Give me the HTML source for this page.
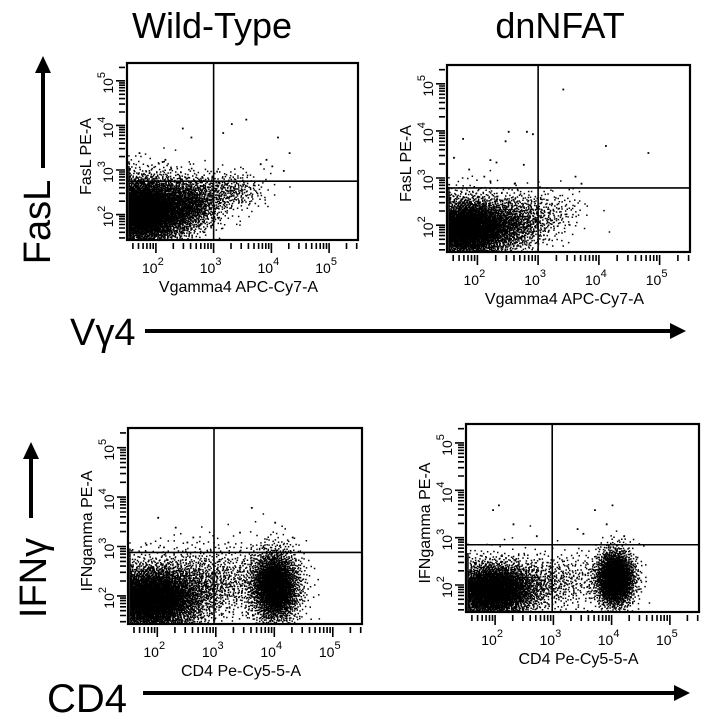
<!DOCTYPE html>
<html><head><meta charset="utf-8">
<style>
html,body{margin:0;padding:0;background:#fff;}
svg{display:block;font-family:"Liberation Sans",Arial,sans-serif;}
</style></head>
<body>
<svg id="fig" width="710" height="723" viewBox="0 0 710 723">
  <text x="212" y="38" font-size="36" text-anchor="middle">Wild-Type</text>
  <text x="560" y="38" font-size="36" text-anchor="middle">dnNFAT</text>
  <text transform="translate(50,222) rotate(-90)" font-size="38" text-anchor="middle">FasL</text>
  <g><rect x="41" y="72" width="4" height="96" fill="#000"/><polygon points="35,73 51,73 43,56" fill="#000"/></g>
  <text x="70" y="345" font-size="38">Vγ4</text>
  <g><rect x="145" y="329" width="528" height="4" fill="#000"/><polygon points="670,323 670,339 686,331" fill="#000"/></g>
  <text transform="translate(46,578) rotate(-90)" font-size="38" text-anchor="middle">IFNγ</text>
  <g><rect x="29" y="458" width="4" height="60" fill="#000"/><polygon points="23,459 39,459 31,442" fill="#000"/></g>
  <text x="47" y="712" font-size="40">CD4</text>
  <g><rect x="143" y="691" width="533" height="4" fill="#000"/><polygon points="674,685 674,701 690,693" fill="#000"/></g>
  <g id="plots"></g>
</svg>
<script>
// Panel definitions (axis ranges in log10 units)
const panelNames = ["wt-fasl","dn-fasl","wt-ifng","dn-ifng"];
const xLabels = ["Vgamma4 APC-Cy7-A","Vgamma4 APC-Cy7-A","CD4 Pe-Cy5-5-A","CD4 Pe-Cy5-5-A"];
const yLabels = ["FasL PE-A","FasL PE-A","IFNgamma PE-A","IFNgamma PE-A"];
const tickDecades = [2,3,4,5];
// quadrant gates (log10)
const gateX = [3.0,3.0,2.97,2.98];
const gateY = [2.75,2.79,2.88,2.85];
// populations per panel: [xMean, yMean, xSd, ySd, count]
const popsWT1 = [[1.75,2.1,0.45,0.38,6000],[2.6,2.3,0.3,0.3,900],[3.3,2.55,0.3,0.22,300]];
const popsDN1 = [[1.85,1.95,0.42,0.33,4500],[2.7,2.1,0.3,0.3,600],[3.3,2.3,0.25,0.25,120]];
const popsWT2 = [[1.9,1.95,0.45,0.35,5000],[4.0,2.2,0.22,0.38,2500],[2.9,2.3,0.5,0.38,900]];
const popsDN2 = [[1.95,1.9,0.4,0.3,3800],[4.05,2.15,0.17,0.3,2200],[3.0,2.1,0.45,0.3,500]];
// sparse outliers [x,y] in log10
const outWT1 = [[3.55,4.15],[3.3,4.05],[3.15,3.85],[4.1,3.75],[4.3,3.4],[2.45,3.95],[2.6,3.75],[1.7,3.4],[2.1,3.2],[2.15,3.25],[2.25,3.05],[3.8,3.15],[3.9,3.25],[4.0,3.1],[4.2,3.0]];
const outDN1 = [[2.5,4.0],[2.45,3.8],[2.8,4.0],[2.9,3.95],[1.75,3.85],[2.2,3.4],[2.3,3.35],[2.75,3.3],[1.85,3.2],[2.1,3.05],[2.6,2.9],[1.6,3.45],[2.2,2.95],[4.8,3.55],[4.1,3.7],[3.4,4.9],[3.6,3.05],[3.7,2.9]];
const outWT2 = [[2.0,3.6],[2.3,3.4],[3.6,3.8],[3.4,3.3],[4.0,3.5],[2.5,3.1],[4.3,3.2],[1.8,3.05],[2.6,3.2],[3.2,3.1],[3.8,3.0],[2.1,3.0]];
const outDN2 = [[1.95,3.6],[2.05,3.7],[2.3,3.3],[3.7,3.6],[4.0,3.7],[3.4,3.2],[3.9,3.3],[2.7,3.05],[3.5,3.1],[4.2,3.05]];
const popsAll = [popsWT1,popsDN1,popsWT2,popsDN2];
const outAll = [outWT1,outDN1,outWT2,outDN2];
const boxes = [[127,63,231,177],[447,65,243,187],[128,428,234,196],[466,424,233,188]];
const XMIN=1.5,XMAX=5.5,YMIN=1.43,YMAX=5.4;
const NS="http://www.w3.org/2000/svg";
const root=document.getElementById('plots');
function mk(tag,attrs,parent){const e=document.createElementNS(NS,tag);for(const k in attrs)e.setAttribute(k,attrs[k]);parent.appendChild(e);return e;}
function halton(i,b){let f=1,r=0;while(i>0){f/=b;r+=f*(i%b);i=Math.floor(i/b);}return r;}
boxes.forEach((bx,p)=>{
  const [L,T,W,H]=bx;
  const sx=v=>L+(v-XMIN)/(XMAX-XMIN)*W;
  const sy=v=>T+H-(v-YMIN)/(YMAX-YMIN)*H;
  const g=mk('g',{},root);
  
  
  const dots=mk('g',{fill:'#000'},g);
  
  
  let idx=1;let d='';
  popsAll[p].forEach(pp=>{
    for(let i=0;i<pp[4];i++,idx++){
      const u1=Math.max(1e-4,halton(idx,2)),u2=halton(idx,3);
      const r=Math.sqrt(-2*Math.log(u1));
      let x=pp[0]+pp[2]*r*Math.cos(2*Math.PI*u2);
      let y=pp[1]+pp[3]*r*Math.sin(2*Math.PI*u2);
      x=Math.min(Math.max(x,XMIN+0.02),XMAX-0.02);y=Math.min(Math.max(y,YMIN+0.02),YMAX-0.02);
      const px=sx(x),py=sy(y);
      d+='M'+px.toFixed(1)+' '+py.toFixed(1)+'h1.5v1.5h-1.5z';
    }
  });
  outAll[p].forEach(o=>{d+='M'+sx(o[0]).toFixed(1)+' '+sy(o[1]).toFixed(1)+'h1.8v1.8h-1.8z';});
  mk('path',{d:d},dots);
  const fr=mk('rect',{x:L,y:T,width:W,height:H,fill:'none',stroke:'#000','stroke-width':2.2},g);
  
  
  const gv=mk('line',{x1:sx(gateX[p]),x2:sx(gateX[p]),y1:T,y2:T+H,stroke:'#000','stroke-width':1.6},g);
  
  
  const gh=mk('line',{x1:L,x2:L+W,y1:sy(gateY[p]),y2:sy(gateY[p]),stroke:'#000','stroke-width':1.6},g);
  
  
  // minor/major ticks
  let td='';
  for(let dcd=1;dcd<=5;dcd++){for(let m=1;m<10;m++){const v=dcd+Math.log10(m);
    if(v>XMIN&&v<XMAX){const x=sx(v);td+='M'+x.toFixed(1)+' '+(T+H+3)+'v'+(m==1?10:6);}
    if(v>YMIN&&v<YMAX){const y=sy(v);td+='M'+(L-2)+' '+y.toFixed(1)+'h-'+(m==1?9:6);}}}
  mk('path',{d:td,stroke:'#000','stroke-width':1.6,fill:'none'},g);
  tickDecades.forEach(dc=>{
    const t=mk('text',{x:sx(dc)-3,y:T+H+33,'font-size':14,'text-anchor':'middle'},g);
    
    
    t.innerHTML='10<tspan dy="-8" font-size="11">'+dc+'</tspan>';
    const ty=mk('text',{transform:'translate('+(L-14)+','+(sy(dc)+2)+') rotate(-90)','font-size':14,'text-anchor':'middle'},g);
    
    
    ty.innerHTML='10<tspan dy="-8" font-size="11">'+dc+'</tspan>';
  });
  const xl=mk('text',{x:L+W/2-4,y:T+H+52,'font-size':16,'text-anchor':'middle'},g);
  xl.textContent=xLabels[p];
  
  
  const yl=mk('text',{transform:'translate('+(L-36)+','+(T+H/2+5)+') rotate(-90)','font-size':16,'text-anchor':'middle'},g);
  yl.textContent=yLabels[p];
  
  
});
</script>
</body></html>
